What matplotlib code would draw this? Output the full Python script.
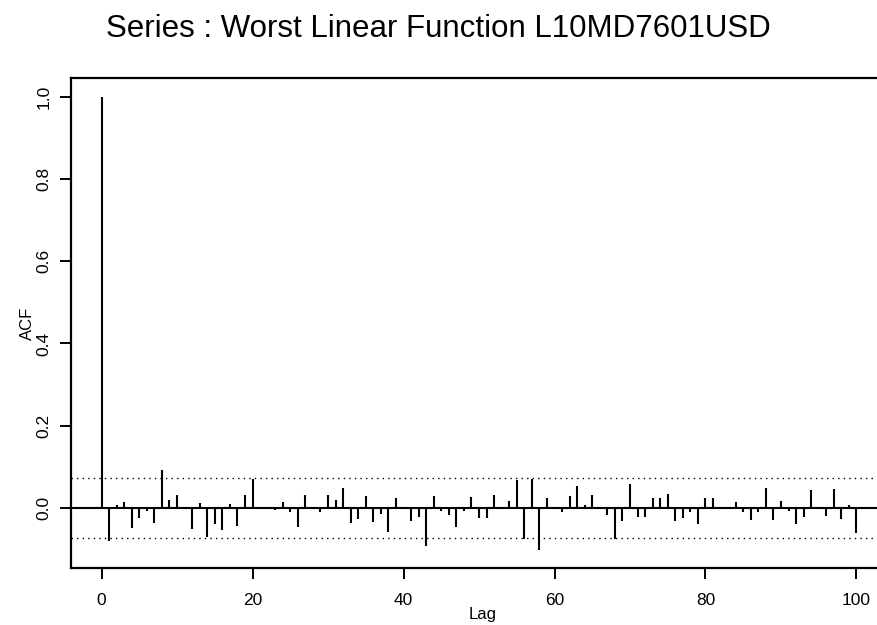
import numpy as np
import matplotlib
matplotlib.use("Agg")
import matplotlib.pyplot as plt

plt.rcParams['font.family'] = ['Liberation Sans', 'DejaVu Sans']

# acf values, lag 0..101
lags = np.arange(0, 102)
acf = [
    1.000, -0.080, 0.007, 0.015, -0.048, -0.024, -0.007, -0.037, 0.092, 0.019,
    0.032, 0.002, -0.052, 0.011, -0.070, -0.040, -0.054, 0.009, -0.044, 0.032,
    0.070, -0.002, -0.002, -0.004, 0.015, -0.011, -0.046, 0.031, 0.002, -0.011,
    0.032, 0.019, 0.048, -0.036, -0.027, 0.030, -0.033, -0.015, -0.059, 0.025,
    -0.002, -0.032, -0.023, -0.093, 0.030, -0.007, -0.018, -0.047, -0.007, 0.026,
    -0.024, -0.024, 0.031, 0.001, 0.017, 0.069, -0.076, 0.070, -0.102, 0.023,
    -0.002, -0.010, 0.028, 0.054, 0.006, 0.032, 0.002, -0.017, -0.076, -0.032,
    0.058, -0.021, -0.021, 0.024, 0.024, 0.033, -0.032, -0.025, -0.011, -0.040,
    0.023, 0.025, -0.003, -0.003, 0.015, -0.010, -0.030, -0.011, 0.048, -0.029,
    0.018, -0.007, -0.038, -0.023, 0.043, 0.002, -0.020, 0.046, -0.028, 0.006,
    -0.062, 0.001,
]
bound = 0.072
title = "Series : Worst Linear Function L10MD7601USD"

fig = plt.figure(figsize=(8.77, 6.25), dpi=100)
ax = fig.add_axes([0.081, 0.0912, 0.939, 0.784])

ax.vlines(lags, 0, acf, color="black", linewidth=1.5)
ax.axhline(0, color="black", linewidth=1.5)
ax.axhline(bound, color="black", linewidth=1.0, linestyle=(0, (1, 3)))
ax.axhline(-bound, color="black", linewidth=1.0, linestyle=(0, (1, 3)))

ax.set_xlim(-4.04, 105.04)
ax.set_ylim(-0.146, 1.0455)
ax.set_xticks([0, 20, 40, 60, 80, 100])
ax.set_yticks([0.0, 0.2, 0.4, 0.6, 0.8, 1.0])
ax.set_yticklabels(["0.0", "0.2", "0.4", "0.6", "0.8", "1.0"], rotation=90, va="center")
ax.tick_params(axis="both", direction="out", length=8, width=1.4, labelsize=12.5, colors="black")
ax.tick_params(axis="y", pad=6)
ax.tick_params(axis="x", pad=10)
for s in ax.spines.values():
    s.set_linewidth(1.6)

ax.set_xlabel("Lag", fontsize=12, labelpad=-1)
ax.set_ylabel("ACF", fontsize=12, labelpad=1)
fig.text(0.5, 0.9408, title, ha="center", va="baseline", fontsize=22.5)

fig.savefig("out.png", dpi=100)
